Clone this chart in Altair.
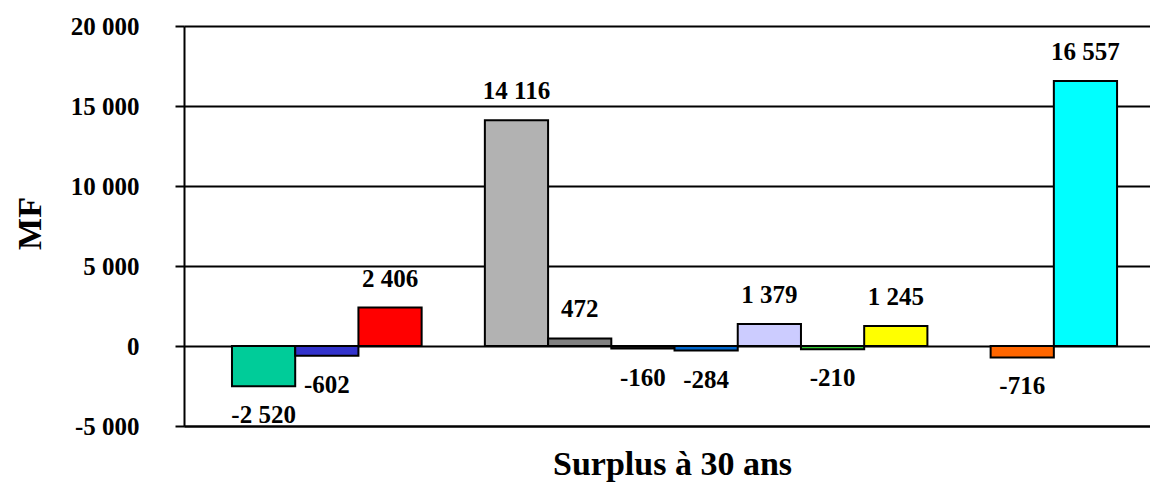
import altair as alt
import pandas as pd

# Series (one bar each) in plotting order; two empty slots keep the gaps
series = ["S1", "S2", "S3", "S4", "S5", "S6", "S7", "S8", "S9", "S10", "S11", "S12"]
values = [-2520, -602, 2406, 14116, 472, -160, -284, 1379, -210, 1245, -716, 16557]
colors = ["#00CC99", "#3333CC", "#FF0000", "#B2B2B2", "#808080", "#1A1A1A",
          "#0066CC", "#CCCCFF", "#33CC33", "#FFFF00", "#FF6600", "#00FFFF"]
slots = ["S1", "S2", "S3", "gap1", "S4", "S5", "S6", "S7", "S8", "S9", "S10", "gap2", "S11", "S12"]
y_ticks = [-5000, 0, 5000, 10000, 15000, 20000]


def fmt(v):
    s = f"{abs(v):,}".replace(",", " ")
    return ("-" if v < 0 else "") + s


df = pd.DataFrame({"serie": series, "valeur": values,
                   "label": [fmt(v) for v in values]})

FONT = "Liberation Serif"

x_enc = alt.X(
    "serie:N",
    scale=alt.Scale(domain=slots, paddingInner=0, paddingOuter=0.64, align=0.593),
    axis=alt.Axis(labels=False, ticks=False, domain=True, domainColor="black",
                  domainWidth=2, title="Surplus à 30 ans", titleFont=FONT,
                  titleFontSize=34, titleFontWeight="bold", titleColor="black",
                  titleBaseline="alphabetic", titleX=488, titleY=48,
                  titleAnchor="start", titleAlign="center"),
)
y_scale = alt.Scale(domain=[-5000, 20000], nice=False, zero=False)

bars = alt.Chart(df).mark_bar(stroke="black", strokeWidth=2).encode(
    x=x_enc,
    y=alt.Y(
        "valeur:Q",
        scale=y_scale,
        axis=alt.Axis(
            values=y_ticks,
            labelExpr="(datum.value < 0 ? '-' : '') + replace(format(abs(datum.value), ','), ',', ' ')",
            labelFont=FONT, labelFontSize=25, labelFontWeight="bold", labelColor="black",
            labelPadding=36, tickSize=9, tickColor="black", tickWidth=2,
            domain=True, domainColor="black", domainWidth=2,
            grid=True, gridColor="black", gridWidth=2,
            title="MF", titleFont=FONT, titleFontSize=34, titleFontWeight="bold",
            titleColor="black", titleAngle=-90, titleBaseline="alphabetic",
            titleX=-144, titleY=197, titleAlign="center", titleAnchor="start",
        ),
    ),
    y2=alt.datum(0),
    color=alt.Color("serie:N", scale=alt.Scale(domain=series, range=colors), legend=None),
)

pos_labels = alt.Chart(df).transform_filter("datum.valeur >= 0").mark_text(
    font=FONT, fontSize=25, fontWeight="bold", color="black", baseline="middle", dy=-29
).encode(x=alt.X("serie:N", scale=alt.Scale(domain=slots)), y=alt.Y("valeur:Q", scale=y_scale), text="label:N")

neg_labels = alt.Chart(df).transform_filter("datum.valeur < 0").mark_text(
    font=FONT, fontSize=25, fontWeight="bold", color="black", baseline="middle", dy=29
).encode(x=alt.X("serie:N", scale=alt.Scale(domain=slots)), y=alt.Y("valeur:Q", scale=y_scale), text="label:N")

chart = alt.layer(bars, pos_labels, neg_labels).properties(
    width=966, height=400,
    autosize=alt.AutoSizeParams(type="none"),
    padding={"left": 176, "top": 18, "right": 0, "bottom": 62},
).configure_view(stroke=None).configure(background="white")

chart.save("out.html", embed_options={"renderer": "svg", "actions": False})
